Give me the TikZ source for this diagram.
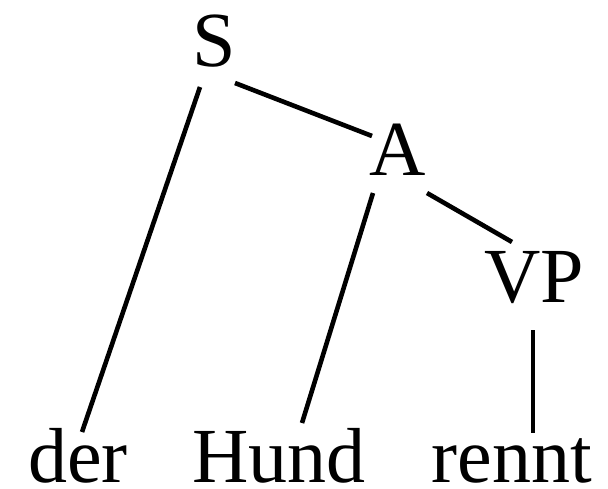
\documentclass[tikz,border=0pt]{standalone}
\usepackage{fontspec}
\setmainfont{Liberation Serif}
\usetikzlibrary{calc}
\tikzset{
  lbl/.style={anchor=base, inner sep=0pt, font=\fontsize{78}{90}\selectfont},
  edge/.style={line width=4.6pt}
}
\begin{document}
\begin{tikzpicture}[x=1pt,y=-1pt]
\useasboundingbox[fill=white] (0,0) rectangle (608,488);
\node[lbl] (S) at (214,66) {S};
\node[lbl] (A) at (398,175) {A};
\node[lbl] (VP) at (534.5,302) {VP};
\node[lbl] (der) at (78,482) {der};
\node[lbl] (Hund) at (279,482) {Hund};
\node[lbl] (rennt) at (512,482) {rennt};
\draw[edge] ($(S.base)+(-14,21)$) -- ($(der.base)+(4,-50)$);
\draw[edge] ($(S.base)+(21,17)$) -- ($(A.base)+(-26,-39)$);
\draw[edge] ($(A.base)+(-25,18)$) -- ($(Hund.base)+(23,-59)$);
\draw[edge] ($(A.base)+(29,18)$) -- ($(VP.base)+(-22.5,-60)$);
\draw[edge] ($(VP.base)+(-1.5,28)$) -- ($(rennt.base)+(21,-49)$);
\end{tikzpicture}
\end{document}
